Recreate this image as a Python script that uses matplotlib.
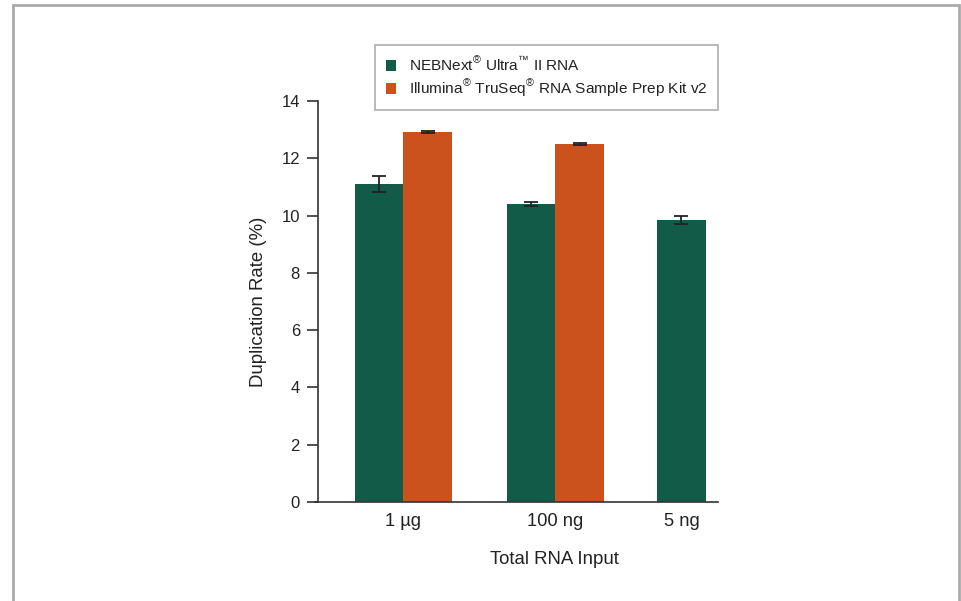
import matplotlib
matplotlib.use("Agg")
import matplotlib.pyplot as plt
from matplotlib.patches import Rectangle
import numpy as np

plt.rcParams['font.family'] = ['Liberation Sans', 'DejaVu Sans']
plt.rcParams['mathtext.fontset'] = 'custom'
plt.rcParams['mathtext.rm'] = 'Liberation Sans'

categories = ["1 µg", "100 ng", "5 ng"]
neb_values = [11.1, 10.42, 9.85]
neb_err = [0.27, 0.07, 0.13]
ill_values = [12.92, 12.5, np.nan]
ill_err = [0.02, 0.03, np.nan]
series_names = ["NEBNext$^{®}$ Ultra$^{™}$ II RNA",
                "Illumina$^{®}$ TruSeq$^{®}$ RNA Sample Prep Kit v2"]
yticks = [0, 2, 4, 6, 8, 10, 12, 14]

green = "#125b48"
orange = "#cb521c"

fig = plt.figure(figsize=(9.62, 6.01), dpi=100)
W, H = 962, 601
ax = fig.add_axes([318 / W, 1 - 502 / H, 400 / W, 401 / H])

pos = np.array([0.0, 1.0, 1.83])
bw = 0.32
x_neb = np.array([pos[0] - bw / 2, pos[1] - bw / 2, pos[2]])
x_ill = np.array([pos[0] + bw / 2, pos[1] + bw / 2, pos[2]])

ekw = dict(ecolor="#222222", elinewidth=1.3, capthick=1.3)
ax.bar(x_neb, neb_values, width=bw, color=green, label=series_names[0],
       yerr=neb_err, capsize=5, error_kw=ekw)
mask = ~np.isnan(ill_values)
ax.bar(x_ill[mask], np.array(ill_values)[mask], width=bw, color=orange, label=series_names[1],
       yerr=np.array(ill_err)[mask], capsize=5, error_kw=ekw)

ax.set_xlim(pos[0] - 0.56, pos[2] + 0.24)
ax.set_ylim(0, 14)
ax.set_yticks(yticks)
ax.set_xticks(pos)
ax.set_xticklabels(categories, fontsize=13.2)
ax.tick_params(axis='y', labelsize=12, length=8, width=1.2, color="#333333", pad=5)
ax.tick_params(axis='x', length=0, pad=8, labelcolor="#222222")
ax.tick_params(axis='y', labelcolor="#222222")
for s in ["top", "right"]:
    ax.spines[s].set_visible(False)
for s in ["left", "bottom"]:
    ax.spines[s].set_color("#333333")
    ax.spines[s].set_linewidth(1.2)
ax.spines["bottom"].set_bounds(ax.get_xlim()[0] - 0.02, ax.get_xlim()[1])

ax.set_ylabel("Duplication Rate (%)", fontsize=13.4, color="#222222", labelpad=10)
ax.set_xlabel("Total RNA Input", fontsize=13.4, color="#222222")
ax.xaxis.set_label_coords((554 - 318) / 400, -(560 - 502) / 401)
ax.xaxis.label.set_va("center")

leg = fig.legend(loc="upper right", bbox_to_anchor=(718 / W, 1 - 45 / H),
                 fontsize=11.1, frameon=True, fancybox=False, handlelength=0.7,
                 handleheight=0.7, handletextpad=0.8, borderpad=0.7, labelspacing=0.25,
                 borderaxespad=0)
leg.get_frame().set_edgecolor("#999999")
leg.get_frame().set_linewidth(1.2)
for t in leg.get_texts():
    t.set_color("#222222")

fig.patches.append(Rectangle((12.5 / W, -0.05), (959 - 12.5) / W, 1 - 5.5 / H + 0.05,
                             transform=fig.transFigure, fill=False,
                             edgecolor="#aaaaaa", linewidth=2))

fig.savefig("out.png", dpi=100)
